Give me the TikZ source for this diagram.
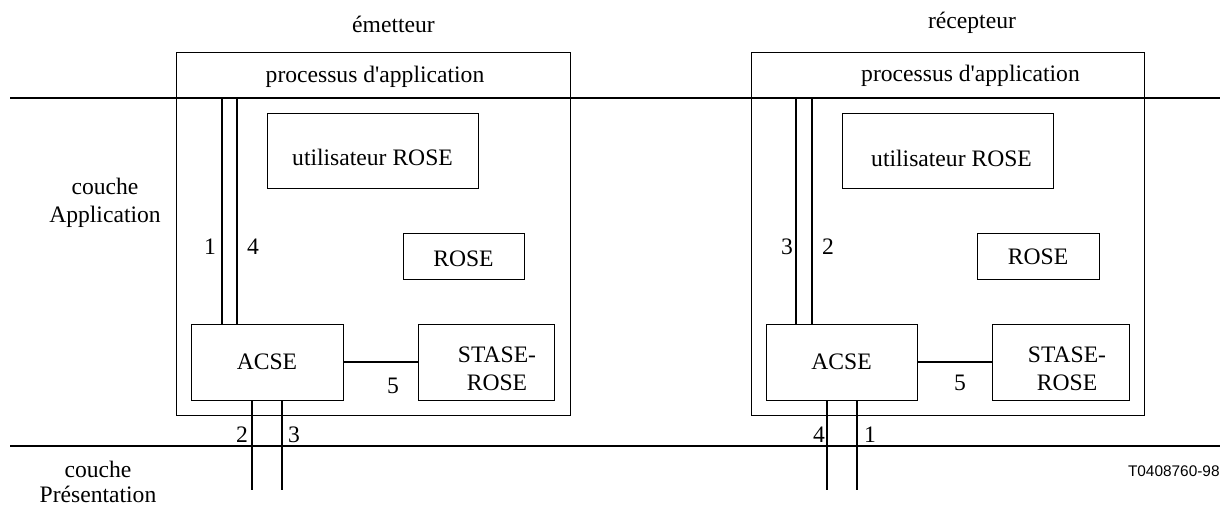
\documentclass[tikz,border=0pt]{standalone}
\usepackage{fontspec}
\setmainfont{Liberation Serif}
\newfontfamily\arialf{Liberation Sans}
\newcommand\twoline[2]{\vtop{\halign{\hfil##\hfil\cr#1\cr#2\cr}}}
\begin{document}
\begin{tikzpicture}[x=0.5pt,y=-0.5pt,
  every node/.style={font=\fontsize{11.8}{14}\selectfont, inner sep=0pt},
  box/.style={draw, line width=0.35pt},
  wire/.style={line width=0.65pt},
  lbl/.style={anchor=base}]
\useasboundingbox (0,0) rectangle (1229,507);

% ---------- layer lines ----------
\coordinate (La) at (10,98);
\coordinate (Lb) at (1220,98);
\coordinate (Pa) at (10,446);
\coordinate (Pb) at (1220,446);

% ---------- left side (emetteur) ----------
\node[box, minimum width=197pt, minimum height=181.5pt] (app1) at (373,233.5) {};
\node[lbl] (t1) at (393.5,33) {émetteur};
\node[lbl] (pa1) at (375,83) {processus d\textquotesingle application};
\node[box, minimum width=105.5pt, minimum height=37.5pt] (u1) at (372.5,150.5)
  {\raisebox{-3.6pt}[8pt][0pt]{utilisateur ROSE}};
\node[box, minimum width=60.5pt, minimum height=23pt] (r1) at (463.5,256)
  {\raisebox{-1.2pt}[7.8pt][0pt]{ROSE}};
\node[box, minimum width=76pt, minimum height=38pt] (acse1) at (267,362) {ACSE};
\node[box, minimum width=68pt, minimum height=38pt] (st1) at (486,362)
  {\kern11pt\raisebox{0pt}[10pt][10pt]{\twoline{STASE-}{ROSE}}};

\draw[wire] (acse1) -- (st1);
\coordinate (v1) at (222,98);
\coordinate (v2) at (237,98);
\draw[wire] (v1) -- (v1 |- acse1.north);
\draw[wire] (v2) -- (v2 |- acse1.north);
\coordinate (w1) at (252,490);
\coordinate (w2) at (282,490);
\draw[wire] (w1 |- acse1.south) -- (w1);
\draw[wire] (w2 |- acse1.south) -- (w2);

\node[lbl] (n1a) at (210,255) {1};
\node[lbl] (n4a) at (253,255) {4};
\node[lbl] (n2a) at (242,442) {2};
\node[lbl] (n3a) at (294,442) {3};
\node[lbl] (n5a) at (393,393) {5};

% ---------- right side (recepteur) ----------
\node[box, minimum width=196.5pt, minimum height=181.5pt] (app2) at (947.5,233.5) {};
\node[lbl] (t2) at (972,29) {récepteur};
\node[lbl] (pa2) at (970.5,82) {processus d\textquotesingle application};
\node[box, minimum width=105.5pt, minimum height=37.5pt] (u2) at (947.5,150.5)
  {\kern4pt\raisebox{-4pt}[8pt][0pt]{utilisateur ROSE}};
\node[box, minimum width=61pt, minimum height=23pt] (r2) at (1038,256)
  {\raisebox{-0.6pt}[7.8pt][0pt]{ROSE}};
\node[box, minimum width=75.5pt, minimum height=38pt] (acse2) at (841.5,362) {ACSE};
\node[box, minimum width=68.5pt, minimum height=38pt] (st2) at (1060.5,362)
  {\kern6.5pt\raisebox{0pt}[10pt][10pt]{\twoline{STASE-}{ROSE}}};

\draw[wire] (acse2) -- (st2);
\coordinate (v3) at (796,98);
\coordinate (v4) at (812,98);
\draw[wire] (v3) -- (v3 |- acse2.north);
\draw[wire] (v4) -- (v4 |- acse2.north);
\coordinate (w3) at (827,490);
\coordinate (w4) at (857,490);
\draw[wire] (w3 |- acse2.south) -- (w3);
\draw[wire] (w4 |- acse2.south) -- (w4);

\node[lbl] (n3b) at (787,255) {3};
\node[lbl] (n2b) at (828,255) {2};
\node[lbl] (n4b) at (819,442) {4};
\node[lbl] (n1b) at (870,442) {1};
\node[lbl] (n5b) at (960,390) {5};

% ---------- layer lines drawn ----------
\draw[wire] (La) -- (Lb);
\draw[wire] (Pa) -- (Pb);

% ---------- layer names ----------
\node[lbl] (capp) at (105,195) {\twoline{couche}{Application}};
\node[lbl, font=\fontsize{11.8}{12.8}\selectfont] (cpres) at (98,477) {\twoline{couche}{Présentation}};
\node[anchor=base east, font=\arialf\fontsize{7.7}{9}\selectfont] (ref) at (1220,476) {T0408760-98};
\end{tikzpicture}
\end{document}
